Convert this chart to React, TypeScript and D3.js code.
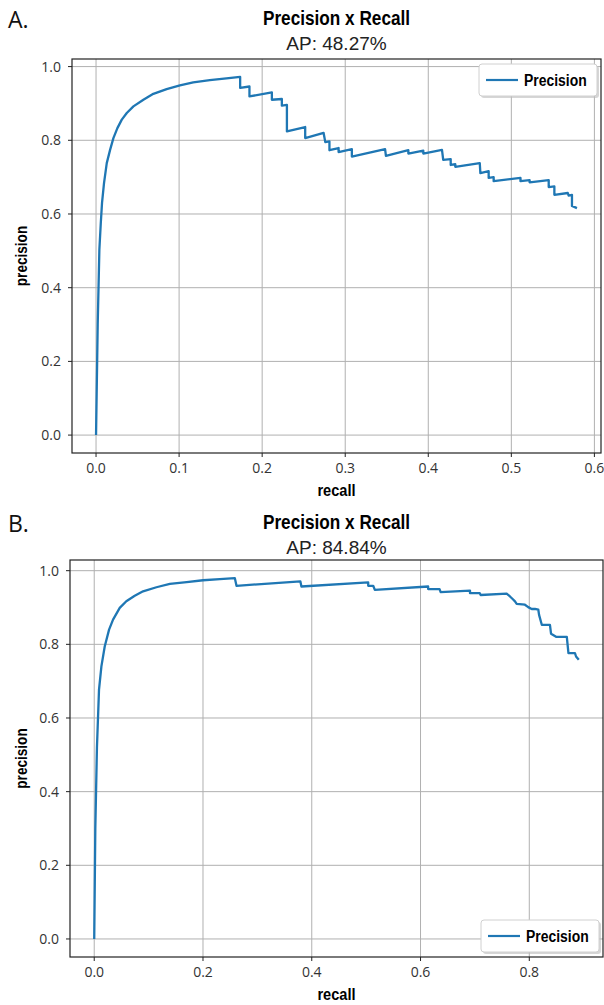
import React from 'react';
import * as d3 from 'd3';

// Chart A: recall / precision pairs
const recallA = [
  0, 0.002, 0.004, 0.0057, 0.0072, 0.0096, 0.0129, 0.0169, 0.0209, 0.0257, 0.031, 0.037,
  0.045, 0.057, 0.069, 0.085, 0.101, 0.117, 0.137, 0.157, 0.1735,
  0.1735, 0.1847, 0.1847, 0.2117, 0.2117, 0.2237, 0.2237, 0.2298, 0.2298, 0.2518, 0.2518,
  0.274, 0.276, 0.281, 0.281, 0.292, 0.292, 0.308, 0.308, 0.348, 0.349, 0.376, 0.376,
  0.394, 0.394, 0.4165, 0.418, 0.427, 0.427, 0.4325, 0.4325, 0.462, 0.4627, 0.4727, 0.4727,
  0.4787, 0.4787, 0.511, 0.511, 0.522, 0.522, 0.545, 0.545, 0.5518, 0.5518, 0.568, 0.569,
  0.573, 0.573, 0.579,
];
const precisionA = [
  0, 0.3, 0.503, 0.575, 0.63, 0.684, 0.738, 0.774, 0.806, 0.833, 0.856, 0.874,
  0.892, 0.91, 0.926, 0.939, 0.949, 0.957, 0.963, 0.968, 0.972,
  0.942, 0.946, 0.919, 0.93, 0.91, 0.912, 0.894, 0.896, 0.824, 0.836, 0.806,
  0.82, 0.795, 0.797, 0.773, 0.779, 0.768, 0.776, 0.756, 0.776, 0.758, 0.773, 0.764,
  0.772, 0.764, 0.774, 0.747, 0.749, 0.733, 0.735, 0.728, 0.738, 0.711, 0.716, 0.698,
  0.7, 0.689, 0.698, 0.689, 0.692, 0.686, 0.692, 0.673, 0.675, 0.652, 0.657, 0.65,
  0.652, 0.622, 0.616,
];

// Chart B
const recallB = [
  0, 0.002, 0.005, 0.0088, 0.0132, 0.0193, 0.0273, 0.0346, 0.0469, 0.059, 0.0745, 0.0898,
  0.1144, 0.139, 0.17, 0.2, 0.231, 0.2585, 0.2616, 0.379, 0.381,
  0.5038, 0.5038, 0.513, 0.516, 0.614, 0.614, 0.635, 0.637, 0.691, 0.691, 0.709, 0.7106,
  0.7584, 0.7645, 0.7694, 0.7737, 0.7768, 0.792, 0.798, 0.8044, 0.8105, 0.8166, 0.818,
  0.823, 0.838, 0.84, 0.85, 0.869, 0.872, 0.884, 0.886, 0.891,
];
const precisionB = [
  0, 0.3, 0.52, 0.677, 0.74, 0.794, 0.84, 0.867, 0.899, 0.917, 0.932, 0.944,
  0.955, 0.964, 0.969, 0.974, 0.977, 0.98, 0.959, 0.971, 0.957,
  0.968, 0.959, 0.959, 0.948, 0.957, 0.95, 0.95, 0.942, 0.946, 0.939, 0.939, 0.934,
  0.9375, 0.93, 0.923, 0.9166, 0.91, 0.9076, 0.901, 0.896, 0.896, 0.894, 0.88,
  0.853, 0.853, 0.829, 0.82, 0.82, 0.776, 0.776, 0.767, 0.758,
];

const xTicksA = [0, 0.1, 0.2, 0.3, 0.4, 0.5, 0.6];
const xTicksB = [0, 0.2, 0.4, 0.6, 0.8];
const yTicks = [0, 0.2, 0.4, 0.6, 0.8, 1.0];

const BLUE = '#1f77b4';
const SANS = '"Liberation Sans", Arial, sans-serif';
const TICKFONT = '"Open Sans", "DejaVu Sans", sans-serif';

type ChartProps = {
  recall: number[];
  precision: number[];
  xTicks: number[];
  letter: string;
  ap: string;
  top: number; // y offset of the block
  frame: { left: number; right: number; top: number; bottom: number };
  legendAt: 'top' | 'bottom';
};

const pad = (lo: number, hi: number) => {
  const m = (hi - lo) * 0.05;
  return [lo - m, hi + m];
};

// bold text squeezed horizontally to look like a narrow face
const Narrow = ({ x, y, size, sx, rotate = 0, anchor = 'middle', children }: any) => (
  <text transform={`translate(${x},${y}) rotate(${rotate}) scale(${sx},1)`} textAnchor={anchor}
    fontSize={size} fontWeight="bold" fontFamily={SANS} fill="#000">
    {children}
  </text>
);

const PRChart = ({ recall, precision, xTicks, letter, ap, top, frame, legendAt }: ChartProps) => {
  const [x0, x1] = d3.extent(recall) as [number, number];
  const [y0, y1] = d3.extent(precision) as [number, number];
  const x = d3.scaleLinear().domain(pad(x0, x1)).range([frame.left, frame.right]);
  const y = d3.scaleLinear().domain(pad(y0, y1)).range([frame.bottom, frame.top]);
  const pts = recall.map((r, i) => [r, precision[i]] as [number, number]);
  const line = d3.line<[number, number]>().x(d => x(d[0])).y(d => y(d[1]));
  const cx = (frame.left + frame.right) / 2;
  const cy = (frame.top + frame.bottom) / 2;

  const legW = 118, legH = 32;
  const legX = frame.right - 4 - legW;
  const legY = legendAt === 'top' ? frame.top + 5 : frame.bottom - 5 - legH;

  return (
    <g transform={`translate(0,${top})`}>
      <text x={8} y={28} fontSize={23} fontFamily={TICKFONT} fill="#111">{letter}</text>
      <Narrow x={cx} y={25} size={20} sx={0.86}>Precision x Recall</Narrow>
      <text x={cx} y={50} textAnchor="middle" fontSize={19} fontFamily={SANS} fill="#222">{ap}</text>

      {/* grid */}
      {xTicks.map(t => (
        <line key={'gx' + t} x1={x(t)} x2={x(t)} y1={frame.top} y2={frame.bottom} stroke="#b0b0b0" strokeWidth={1} />
      ))}
      {yTicks.map(t => (
        <line key={'gy' + t} x1={frame.left} x2={frame.right} y1={y(t)} y2={y(t)} stroke="#b0b0b0" strokeWidth={1} />
      ))}

      <path d={line(pts) ?? ''} fill="none" stroke={BLUE} strokeWidth={2.3} strokeLinejoin="round" />

      <rect x={frame.left} y={frame.top} width={frame.right - frame.left} height={frame.bottom - frame.top}
        fill="none" stroke="#222" strokeWidth={1.2} />

      {/* ticks */}
      {xTicks.map(t => (
        <g key={'tx' + t}>
          <line x1={x(t)} x2={x(t)} y1={frame.bottom} y2={frame.bottom + 4} stroke="#222" />
          <text x={x(t)} y={frame.bottom + 20} textAnchor="middle" fontSize={14} fontFamily={TICKFONT} fill="#333">
            {d3.format('.1f')(t)}
          </text>
        </g>
      ))}
      {yTicks.map(t => (
        <g key={'ty' + t}>
          <line x1={frame.left - 4} x2={frame.left} y1={y(t)} y2={y(t)} stroke="#222" />
          <text x={frame.left - 11} y={y(t) + 5} textAnchor="end" fontSize={14} fontFamily={TICKFONT} fill="#333">
            {d3.format('.1f')(t)}
          </text>
        </g>
      ))}

      <Narrow x={cx} y={frame.bottom + 43} size={17} sx={0.86}>recall</Narrow>
      <Narrow x={27} y={cy} size={17} sx={0.8} rotate={-90}>precision</Narrow>

      {/* legend */}
      <rect x={legX + 2} y={legY + 2} width={legW} height={legH} rx={3} fill="#bbb" opacity={0.6} />
      <rect x={legX} y={legY} width={legW} height={legH} rx={3} fill="#fff" stroke="#d0d0d0" />
      <line x1={legX + 7} x2={legX + 39} y1={legY + legH / 2} y2={legY + legH / 2} stroke={BLUE} strokeWidth={2.2} />
      <Narrow x={legX + 45} y={legY + legH / 2 + 6} size={17} sx={0.82} anchor="start">Precision</Narrow>
    </g>
  );
};

export default function App() {
  return (
    <svg width={604} height={1005} style={{ position: 'absolute', left: 0, top: 0, background: '#fff' }}>
      <rect width={604} height={1005} fill="#fff" />
      <PRChart recall={recallA} precision={precisionA} xTicks={xTicksA} letter="A." ap="AP: 48.27%"
        top={0} frame={{ left: 72, right: 601, top: 59, bottom: 453 }} legendAt="top" />
      <PRChart recall={recallB} precision={precisionB} xTicks={xTicksB} letter="B." ap="AP: 84.84%"
        top={504} frame={{ left: 70, right: 603, top: 56, bottom: 453 }} legendAt="bottom" />
    </svg>
  );
}
